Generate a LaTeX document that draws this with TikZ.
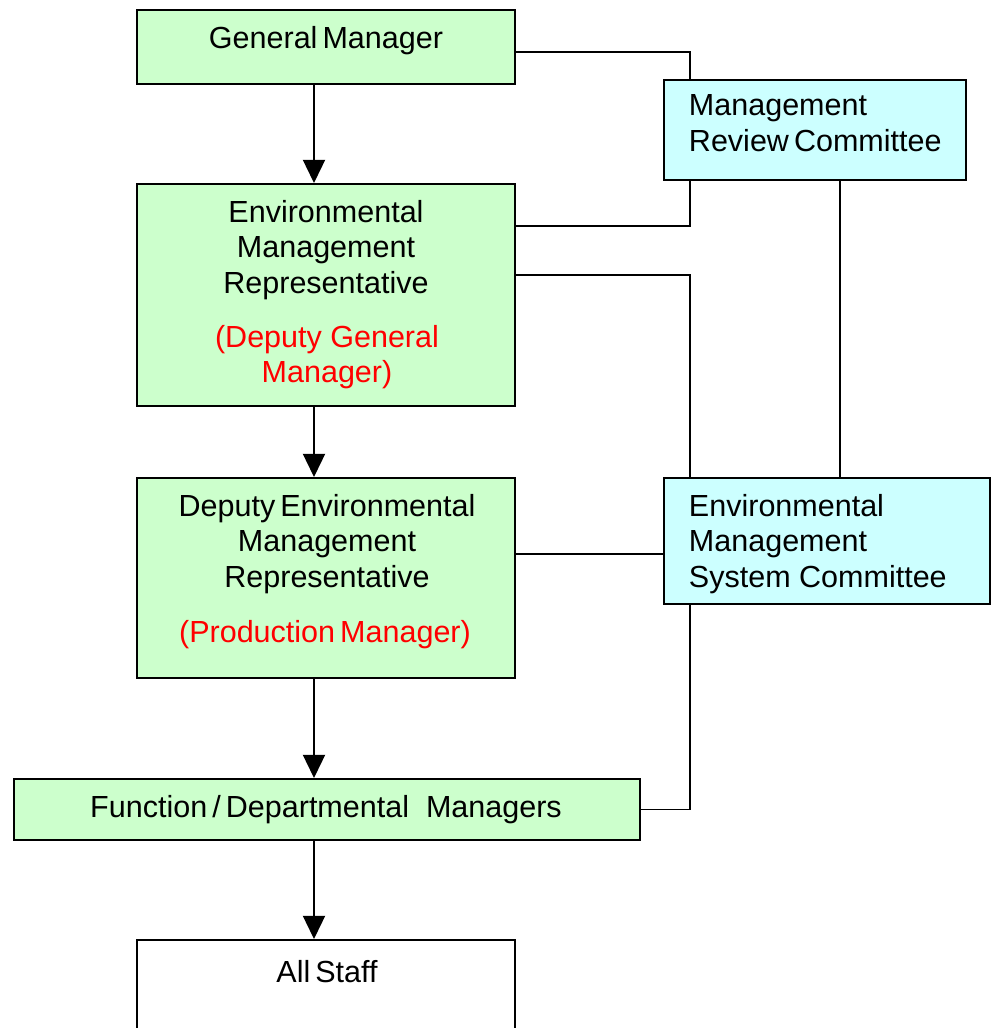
\documentclass[tikz,border=0pt]{standalone}
\usepackage{fontspec}
\setmainfont{Liberation Sans}
\usetikzlibrary{arrows.meta,fit}
\definecolor{boxgreen}{HTML}{CCFFCC}
\definecolor{boxcyan}{HTML}{CCFFFF}
\definecolor{textred}{HTML}{FF0000}

\begin{document}
\begin{tikzpicture}[x=0.025cm,y=-0.025cm,line width=1.4pt]
\tikzstyle{gbox}=[draw=black,fill=boxgreen,inner sep=0pt]
\tikzstyle{cbox}=[draw=black,fill=boxcyan,inner sep=0pt]
\tikzstyle{wbox}=[draw=black,fill=white,inner sep=0pt]
\tikzstyle{txt}=[inner sep=0pt,align=center,font=\fontsize{21.7pt}{25.3pt}\selectfont]
\tikzstyle{redtxt}=[txt,text=textred]
\tikzstyle{conn}=[line width=1.4pt]
\tikzstyle{arr}=[conn,-{Triangle[width=0.55cm,length=0.58cm]}]
\useasboundingbox (0,0) rectangle (992,1028);
\clip (0,0) rectangle (992,1028);
% boxes
\node[gbox,fit={(137,10) (515,84)}] (gm) {};
\node[cbox,fit={(664,80) (966,180)}] (mrc) {};
\node[gbox,fit={(137,184) (515,406)}] (emr) {};
\node[gbox,fit={(137,478) (515,678)}] (demr) {};
\node[cbox,fit={(664,478) (990,604)}] (emsc) {};
\node[gbox,fit={(14,779) (640,840)}] (fdm) {};
\node[wbox,fit={(137,940) (515,1060)}] (staff) {};
% texts
\node[txt,anchor=north] (gmt) at (326,25) {General\,Manager};
\node[txt,anchor=north west,align=left] (mrct) at (688,94) {Management\\Review\,Committee};
\node[txt,anchor=north] (emrt) at (326,199) {Environmental\\Management\\Representative};
\node[redtxt,anchor=north] (emrr) at (327,324) {(Deputy General\\Manager)};
\node[txt,anchor=north] (demrt) at (327,493) {Deputy\,Environmental\\Management\\Representative};
\node[redtxt,anchor=north] (demrr) at (325,619) {(Production\,Manager)};
\node[txt,anchor=north west,align=left] (emsct) at (688,493) {Environmental\\Management\\System Committee};
\node[txt,anchor=north] (fdmt) at (326,794) {Function\,/\,Departmental\ \ Managers};
\node[txt,anchor=north] (stafft) at (327,959) {All\,Staff};
% guide coordinates
\coordinate (ax) at (314,0);
\coordinate (bx) at (690,0);
\coordinate (cx) at (840,0);
\coordinate (gy) at (0,52);
\coordinate (ry) at (0,226);
\coordinate (sy) at (0,275);
\coordinate (dy) at (0,554);
% connectors
\draw[conn] (gm.east |- gy) -| (bx |- mrc.north);
\draw[conn] (bx |- mrc.south) |- (emr.east |- ry);
\draw[conn] (emr.east |- sy) -| (bx |- emsc.north);
\draw[conn] (cx |- mrc.south) -- (cx |- emsc.north);
\draw[conn] (demr.east |- dy) -- (emsc.west |- dy);
\draw[conn] (bx |- emsc.south) |- (fdm.east);
% arrows
\draw[arr] (ax |- gm.south) -- (ax |- emr.north);
\draw[arr] (ax |- emr.south) -- (ax |- demr.north);
\draw[arr] (ax |- demr.south) -- (ax |- fdm.north);
\draw[arr] (ax |- fdm.south) -- (ax |- staff.north);
\end{tikzpicture}
\end{document}
